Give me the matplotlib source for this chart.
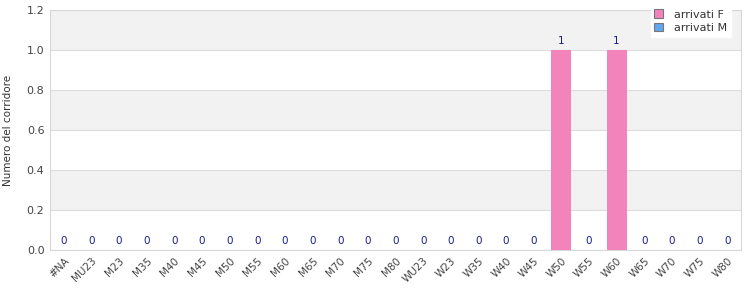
import matplotlib
matplotlib.use("Agg")
import matplotlib.pyplot as plt
import numpy as np

categories = ["#NA", "MU23", "M23", "M35", "M40", "M45", "M50", "M55", "M60", "M65",
              "M70", "M75", "M80", "WU23", "W23", "W35", "W40", "W45", "W50", "W55",
              "W60", "W65", "W70", "W75", "W80"]
arrivati_F = [0, 0, 0, 0, 0, 0, 0, 0, 0, 0, 0, 0, 0, 0, 0, 0, 0, 0, 1, 0, 1, 0, 0, 0, 0]
arrivati_M = [0] * 25

plt.rcParams['font.family'] = ['DejaVu Sans']
fig = plt.figure(figsize=(7.5, 3.0), dpi=100)
ax = fig.add_axes([50/750, 50/300, 691/750, 240/300])

x = np.arange(len(categories))
F = np.array(arrivati_F)
M = np.array(arrivati_M)
ax.bar(x, F, width=0.72, color="#f383bb", label="arrivati F", zorder=3)
ax.bar(x, M, bottom=F, width=0.72, color="#62a6ee", label="arrivati M", zorder=3)

tot = F + M
for xi, t in zip(x, tot):
    ax.text(xi, t + 0.018, f"{t:d}", ha="center", va="bottom", fontsize=7.5,
            color="#1a1a8c", zorder=4)

ax.set_xlim(-0.5, len(categories) - 0.5)
ax.set_ylim(0, 1.2)
yt = np.arange(0, 1.21, 0.2)
ax.set_yticks(yt)
ax.set_yticklabels([f"{v:.1f}" for v in yt])
for i in range(6):
    if i % 2 == 1:
        ax.axhspan(yt[i], yt[i + 1], color="#f2f2f2", zorder=0, lw=0)
ax.grid(axis="y", color="#dddddd", lw=0.8, zorder=1)
ax.set_axisbelow(True)

ax.set_xticks(x)
ax.set_xticklabels(categories, rotation=45, ha="right", rotation_mode="anchor",
                   fontsize=7.5, color="#444444")
ax.tick_params(axis="both", length=0, pad=4)
ax.tick_params(axis="y", labelsize=8, labelcolor="#444444")
for s in ax.spines.values():
    s.set_color("#d8d8d8")
    s.set_linewidth(0.8)

ax.set_ylabel("Numero del corridore", fontsize=7.5, color="#333333", labelpad=10)

leg = ax.legend(loc="upper right", bbox_to_anchor=(737/750, 1.0), bbox_transform=fig.transFigure,
                fontsize=8, frameon=True, fancybox=False, framealpha=1,
                edgecolor="white", handlelength=0.8, handleheight=0.8,
                borderpad=0.35, labelspacing=0.3, handletextpad=1.0)
for h in leg.legend_handles:
    h.set_edgecolor("#777777")
    h.set_linewidth(0.8)
for t in leg.get_texts():
    t.set_color("#333333")

fig.savefig("out.png", dpi=100)
